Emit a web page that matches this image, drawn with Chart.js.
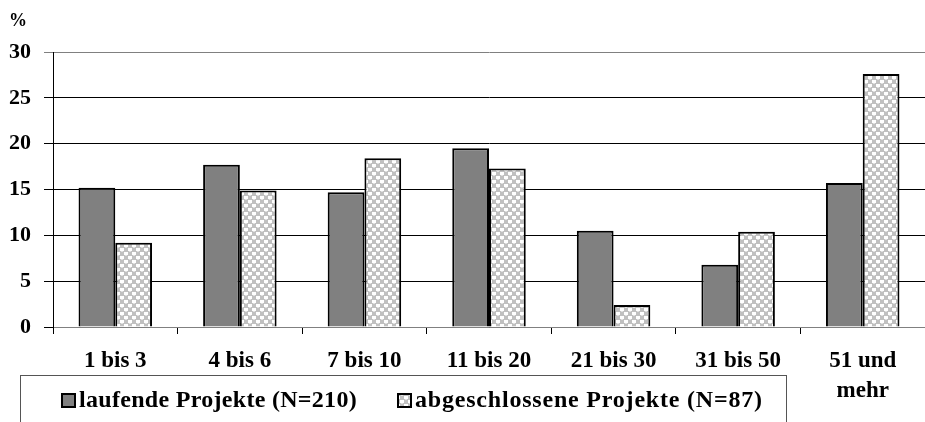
<!DOCTYPE html>
<html>
<head>
<meta charset="utf-8">
<script src="https://cdn.jsdelivr.net/npm/chart.js@4"></script>
<style>
  body { margin: 0; background: #fff; }
  #wrap { width: 925px; height: 422px; position: relative; }
</style>
</head>
<body>
<div id="wrap"><canvas id="chart"></canvas></div>
<script>
const categories = ['1 bis 3', '4 bis 6', '7 bis 10', '11 bis 20', '21 bis 30', '31 bis 50', ['51 und', 'mehr']];
const seriesNames = ['laufende Projekte (N=210)', 'abgeschlossene Projekte (N=87)'];
const laufende = [15.2, 17.7, 14.7, 19.5, 10.5, 6.8, 15.7];
const abgeschlossene = [9.2, 14.9, 18.4, 17.3, 2.4, 10.4, 27.6];
const yTicks = [0, 5, 10, 15, 20, 25, 30];

const FONT = '"Liberation Serif", "DejaVu Serif", serif';

// checkered pattern for the second series
function makePattern() {
  const c = document.createElement('canvas');
  c.width = 8; c.height = 8;
  const g = c.getContext('2d');
  g.fillStyle = '#c0c0c0';
  g.fillRect(0, 0, 8, 8);
  g.fillStyle = '#ffffff';
  g.fillRect(0, 0, 4, 3);
  g.fillRect(4, 4, 4, 3);
  g.fillStyle = '#e0e0e0';
  g.fillRect(1, 3, 2, 1);
  g.fillRect(5, 7, 2, 1);
  return g.createPattern(c, 'repeat');
}
const pattern = makePattern();

const extras = {
  id: 'extras',
  afterDraw(chart) {
    const ctx = chart.ctx;
    ctx.save();
    ctx.fillStyle = '#000';
    ctx.font = 'bold 18px ' + FONT;
    ctx.textBaseline = 'middle';
    ctx.fillText('%', 9, 21);

    // legend box
    ctx.strokeStyle = '#555';
    ctx.lineWidth = 1;
    ctx.strokeRect(20.5, 375.5, 766, 80);

    const items = [
      { x: 62, fill: '#808080', spacing: '0.3px' },
      { x: 398, fill: pattern, spacing: '0.8px' }
    ];
    ctx.font = 'bold 24px ' + FONT;
    items.forEach((it, i) => {
      ctx.fillStyle = it.fill;
      ctx.fillRect(it.x, 394, 13, 13);
      ctx.strokeStyle = '#000';
      ctx.lineWidth = 2;
      ctx.strokeRect(it.x, 394, 13, 13);
      ctx.fillStyle = '#000';
      ctx.textBaseline = 'middle';
      ctx.letterSpacing = it.spacing;
      ctx.fillText(seriesNames[i], it.x + 17, 401);
    });
    ctx.restore();
  }
};

new Chart(document.getElementById('chart'), {
  type: 'bar',
  data: {
    labels: categories,
    datasets: [
      { label: seriesNames[0], data: laufende, backgroundColor: '#808080', borderColor: '#000', borderWidth: 2 },
      { label: seriesNames[1], data: abgeschlossene, backgroundColor: pattern, borderColor: '#000', borderWidth: 2 }
    ]
  },
  options: {
    responsive: true,
    maintainAspectRatio: false,
    animation: false,
    layout: { padding: { top: 52, right: 0, left: 0, bottom: 0 } },
    datasets: { bar: { categoryPercentage: 0.59, barPercentage: 1 } },
    plugins: { legend: { display: false }, tooltip: { enabled: false } },
    scales: {
      x: {
        afterFit(s) { s.height = 95; },
        grid: { drawOnChartArea: false, color: '#000', tickLength: 7, offset: true },
        border: { color: '#808080', width: 1 },
        ticks: { color: '#000', font: { family: FONT, size: 23, weight: 'bold', lineHeight: 1.3 }, padding: 12, maxRotation: 0 }
      },
      y: {
        min: 0, max: 30,
        afterFit(s) { s.width = 53; },
        afterBuildTicks(s) { s.ticks = yTicks.map(v => ({ value: v })); },
        grid: {
          color: ctx => ctx.tick && ctx.tick.value === 30 ? '#808080' : '#000',
          tickLength: 9
        },
        border: { color: '#000', width: 1 },
        ticks: { color: '#000', font: { family: FONT, size: 22, weight: 'bold' }, padding: 13 }
      }
    }
  },
  plugins: [extras]
});
</script>
</body>
</html>
